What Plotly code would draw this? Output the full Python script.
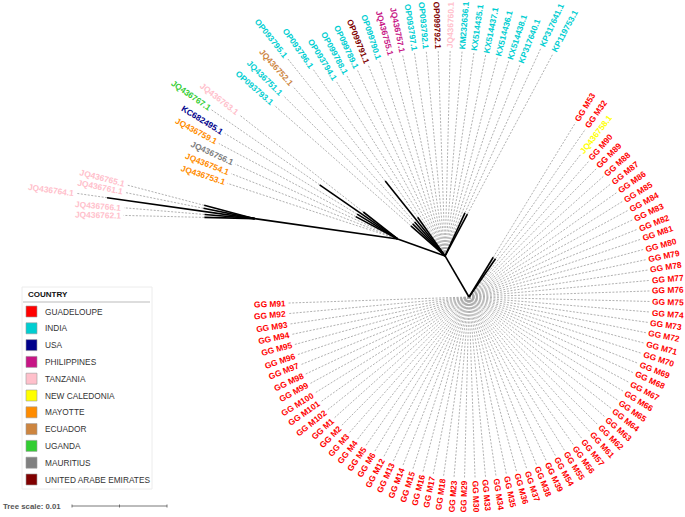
import math
import plotly.graph_objects as go

# ------------------------------------------------------------------ data
# Leaves listed counter-clockwise, grouped by the internal node they hang from.
gg_leaves = ["GG M91", "GG M92", "GG M93", "GG M94", "GG M95", "GG M96", "GG M97", "GG M98",
             "GG M99", "GG M100", "GG M101", "GG M102", "GG M1", "GG M2", "GG M3", "GG M4",
             "GG M5", "GG M6", "GG M12", "GG M13", "GG M14", "GG M15", "GG M16", "GG M17",
             "GG M18", "GG M23", "GG M29", "GG M30", "GG M33", "GG M34", "GG M35", "GG M36",
             "GG M37", "GG M38", "GG M39", "GG M54", "GG M55", "GG M56", "GG M57", "GG M61",
             "GG M62", "GG M63", "GG M64", "GG M65", "GG M66", "GG M67", "GG M68", "GG M69",
             "GG M70", "GG M71", "GG M72", "GG M73", "GG M74", "GG M75", "GG M76", "GG M77",
             "GG M78", "GG M79", "GG M80", "GG M81", "GG M82", "GG M83", "GG M84", "GG M85",
             "GG M86", "GG M87", "GG M88", "GG M89", "GG M90", "JQ436758.1", "GG M32", "GG M53"]
gg_country = ["GP", "GP", "GP", "GP", "GP", "GP", "GP", "GP", "GP", "GP", "GP", "GP",
              "GP", "GP", "GP", "GP", "GP", "GP", "GP", "GP", "GP", "GP", "GP", "GP",
              "GP", "GP", "GP", "GP", "GP", "GP", "GP", "GP", "GP", "GP", "GP", "GP",
              "GP", "GP", "GP", "GP", "GP", "GP", "GP", "GP", "GP", "GP", "GP", "GP",
              "GP", "GP", "GP", "GP", "GP", "GP", "GP", "GP", "GP", "GP", "GP", "GP",
              "GP", "GP", "GP", "GP", "GP", "GP", "GP", "GP", "GP", "NC", "GP", "GP"]
gg_branch = [0, 0, 0, 0, 0, 0, 0, 0, 0, 0, 0, 0,
             0, 0, 0, 0, 0, 0, 0, 0, 0, 0, 0, 0,
             0, 0, 0, 0, 0, 0, 0, 0, 0, 0, 0, 0,
             0, 0, 0, 0, 0, 0, 0, 0, 0, 0, 0, 0,
             0, 0, 0, 0, 0, 0, 0, 0, 0, 0, 0, 0,
             0, 0, 0, 0, 0, 0, 0, 0, 0, 0, 0.0049, 0.0049]

n1_leaves = ["KP119753.1", "KP317641.1", "KP317640.1", "KX514438.1", "KX514436.1", "KX514437.1",
             "KX514435.1", "KM232636.1", "JQ436760.1", "OP099792.1", "OP093792.1", "OP093797.1",
             "JQ436757.1", "JQ436755.1", "OP099790.1", "OP099791.1", "OP099789.1", "OP099788.1",
             "OP093794.1", "OP093796.1", "OP093795.1", "JQ436752.1", "JQ436751.1", "OP093793.1"]
n1_country = ["IN", "IN", "IN", "IN", "IN", "IN", "IN", "IN", "TZ", "AE", "IN", "IN",
              "PH", "PH", "IN", "AE", "IN", "IN", "IN", "IN", "IN", "EC", "IN", "IN"]
n1_branch = [0.0050, 0.0050, 0, 0, 0, 0, 0, 0, 0, 0, 0, 0,
             0, 0, 0, 0, 0, 0, 0, 0.0050, 0.0101, 0.0048, 0.0048, 0.0048]

n2_leaves = ["JQ436763.1", "JQ436767.1", "KC682495.1", "JQ436759.1", "JQ436756.1",
             "JQ436754.1", "JQ436753.1"]
n2_country = ["TZ", "UG", "US", "YT", "MU", "YT", "YT"]
n2_branch = [0.0046, 0.0100, 0.0050, 0.0050, 0, 0, 0]

t_leaves = ["JQ436765.1", "JQ436761.1", "JQ436764.1", "JQ436766.1", "JQ436762.1"]
t_country = ["TZ", "TZ", "TZ", "TZ", "TZ"]
t_branch = [0.0055, 0.0055, 0.0157, 0.0053, 0.0053]

# internal nodes
node_names = ["GG", "N1", "N2", "T"]
node_parent = ["ROOT", "ROOT", "N1", "N2"]
node_branch = [0.0, 0.0050, 0.0053, 0.0152]

# legend
country_codes = ["GP", "IN", "US", "PH", "TZ", "NC", "YT", "EC", "UG", "MU", "AE"]
country_names = ["GUADELOUPE", "INDIA", "USA", "PHILIPPINES", "TANZANIA", "NEW CALEDONIA",
                 "MAYOTTE", "ECUADOR", "UGANDA", "MAURITIUS", "UNITED ARABE EMIRATES"]
country_colors = ["#ff0000", "#00ced1", "#00008b", "#c71585", "#ffc0cb", "#ffff00",
                  "#ff8c00", "#cd853f", "#32cd32", "#808080", "#800000"]

tree_scale = 0.01

# ------------------------------------------------------------------ layout params
W, H = 685, 517
ROOT_XY = (469.0, 297.0)
PX_PER_UNIT = 9500.0
THETA0 = -179.75              # start of the equal-angle sweep (degrees)
LABEL_BASE = {"GG": 182, "N1": 206, "N2": 180, "T": 107}
FONT = "Arial, Liberation Sans, sans-serif"
LABEL_SIZE = 8.4

color_of = dict(zip(country_codes, country_colors))

groups = [("GG", gg_leaves, gg_country, gg_branch),
          ("N1", n1_leaves, n1_country, n1_branch),
          ("N2", n2_leaves, n2_country, n2_branch),
          ("T", t_leaves, t_country, t_branch)]

leaves = []
for node, names, ctry, br in groups:
    for nm, c, b in zip(names, ctry, br):
        leaves.append((nm, c, b, node))
N = len(leaves)
unit = 360.0 / N

children = {}
for nm, par in zip(node_names, node_parent):
    children.setdefault(par, []).append(nm)


def subtree_idx(node):
    idx = [i for i, lf in enumerate(leaves) if lf[3] == node]
    for ch in children.get(node, []):
        idx += subtree_idx(ch)
    return idx


def dvec(theta):
    r = math.radians(theta)
    return math.cos(r), -math.sin(r)


pos = {"ROOT": ROOT_XY}
for nm, par, b in zip(node_names, node_parent, node_branch):
    idx = subtree_idx(nm)
    ang = THETA0 + unit * (min(idx) + max(idx) + 1) / 2.0
    dx, dy = dvec(ang)
    px, py = pos[par]
    pos[nm] = (px + b * PX_PER_UNIT * dx, py + b * PX_PER_UNIT * dy)

CW = {'.': 278, ' ': 278, 'G': 778, 'M': 833, 'J': 556, 'Q': 778, 'O': 778, 'P': 667,
      'K': 722, 'X': 667, 'C': 722}


def text_w(s, size):
    return sum(556 if ch.isdigit() else CW.get(ch, 600) for ch in s) / 1000.0 * size


bx, by, dxs, dys = [], [], [], []
annotations = []
# internal branches
for nm, par in zip(node_names, node_parent):
    if pos[nm] != pos[par]:
        bx += [pos[par][0], pos[nm][0], None]
        by += [pos[par][1], pos[nm][1], None]

for i, (nm, c, b, node) in enumerate(leaves):
    ang = THETA0 + unit * (i + 0.5)
    ux, uy = dvec(ang)
    px, py = pos[node]
    blen = b * PX_PER_UNIT
    tip = (px + blen * ux, py + blen * uy)
    if blen > 0:
        bx += [px, tip[0], None]
        by += [py, tip[1], None]
    ldist = LABEL_BASE[node] + 0.5 * blen
    inner = (px + ldist * ux, py + ldist * uy)
    dxs += [tip[0], inner[0] - 1.0 * ux, None]
    dys += [tip[1], inner[1] - 1.0 * uy, None]
    w = text_w(nm, LABEL_SIZE)
    cx = inner[0] + (w / 2 + 1.5) * ux
    cy = inner[1] + (w / 2 + 1.5) * uy
    a = ((ang + 180) % 360) - 180
    if -90 < a <= 90:
        ta = -a
    else:
        ta = 180 - a
    ta = ((ta + 180) % 360) - 180
    annotations.append(dict(x=cx, y=cy, xref="x", yref="y", text="<b>%s</b>" % nm,
                            showarrow=False, textangle=ta, xanchor="center", yanchor="middle",
                            font=dict(family=FONT, size=LABEL_SIZE, color=color_of[c])))

fig = go.Figure()
fig.add_trace(go.Scatter(x=dxs, y=dys, mode="lines", hoverinfo="skip",
                         line=dict(color="#a8a8a8", width=0.9, dash="2px,1.5px")))
fig.add_trace(go.Scatter(x=bx, y=by, mode="lines", hoverinfo="skip",
                         line=dict(color="black", width=1.6)))

shapes = []
# legend box
LX0, LY0, LX1, LY1 = 22, 287, 152, 489
shapes.append(dict(type="rect", x0=LX0, y0=LY0, x1=LX1, y1=LY1, xref="x", yref="y",
                   line=dict(color="#ececec", width=1), fillcolor="white", layer="below"))
shapes.append(dict(type="line", x0=23, y0=302, x1=150, y1=302, xref="x", yref="y",
                   line=dict(color="#bbbbbb", width=1)))
annotations.append(dict(x=26, y=294.5, xref="x", yref="y", text="<b>COUNTRY</b>", showarrow=False,
                        xanchor="left", yanchor="middle",
                        font=dict(family=FONT, size=8, color="#111111")))
for k, (nmc, col) in enumerate(zip(country_names, country_colors)):
    yc = 311.5 + k * 16.8
    shapes.append(dict(type="rect", x0=26, x1=37, y0=yc - 5.5, y1=yc + 5.5, xref="x", yref="y",
                       fillcolor=col, line=dict(color="#9a9a9a", width=0.6)))
    annotations.append(dict(x=43, y=yc, xref="x", yref="y", text=nmc, showarrow=False,
                            xanchor="left", yanchor="middle",
                            font=dict(family=FONT, size=8.3, color="#333333")))

# tree scale
SX0, SY = 72, 506
SX1 = SX0 + tree_scale * PX_PER_UNIT
shapes.append(dict(type="line", x0=SX0, x1=SX1, y0=SY, y1=SY, xref="x", yref="y",
                   line=dict(color="#555555", width=0.8)))
for tx in (SX0, (SX0 + SX1) / 2, SX1):
    shapes.append(dict(type="line", x0=tx, x1=tx, y0=SY - 1.5, y1=SY + 1.5, xref="x", yref="y",
                       line=dict(color="#555555", width=0.8)))
annotations.append(dict(x=63, y=SY, xref="x", yref="y", text="<b>Tree scale: %g</b>" % tree_scale,
                        showarrow=False, xanchor="right", yanchor="middle",
                        font=dict(family=FONT, size=7.8, color="#555555")))

fig.update_layout(
    width=W, height=H, margin=dict(l=0, r=0, t=0, b=0),
    paper_bgcolor="white", plot_bgcolor="white", showlegend=False,
    xaxis=dict(range=[0, W], visible=False, fixedrange=True),
    yaxis=dict(range=[H, 0], visible=False, fixedrange=True),
    shapes=shapes, annotations=annotations,
)
fig.write_html("out.html", config={"displayModeBar": False},
               post_script="document.body.style.margin='0px';document.body.style.overflow='hidden';")
